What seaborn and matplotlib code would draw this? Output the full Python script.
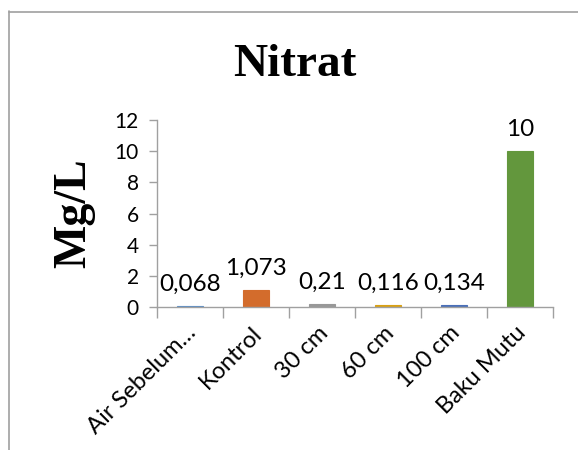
import matplotlib
matplotlib.use("Agg")
import matplotlib.pyplot as plt
import matplotlib.transforms as mtransforms
import seaborn as sns
import pandas as pd
from matplotlib.lines import Line2D

categories = ["Air Sebelum…", "Kontrol", "30 cm", "60 cm", "100 cm", "Baku Mutu"]
values = [0.068, 1.073, 0.21, 0.116, 0.134, 10]
value_labels = ["0,068", "1,073", "0,21", "0,116", "0,134", "10"]
colors = ["#5B8FC9", "#D36C2C", "#989898", "#D9A013", "#4A6FB8", "#63973D"]
yticks = [0, 2, 4, 6, 8, 10, 12]

sns.set_theme(style="white")
plt.rcParams['font.family'] = ['Lato', 'DejaVu Sans']

df = pd.DataFrame({"cat": categories, "val": values})

fig = plt.figure(figsize=(5.78, 4.50), dpi=100)
ax = fig.add_axes([157/578, 1-307/450, (553-157)/578, (307-120)/450])

sns.barplot(data=df, x="cat", y="val", hue="cat", palette=colors,
            order=categories, hue_order=categories, legend=False,
            width=0.395, ax=ax, saturation=1)
for cont, col in zip(ax.containers, colors):
    for p in cont.patches:
        p.set_edgecolor(col)
        p.set_linewidth(0.8)

for cont, lab in zip(ax.containers, value_labels):
    ax.bar_label(cont, labels=[lab], padding=8, fontsize=17.5, color="black")

ax.set_ylim(0, 12)
ax.set_xlim(-0.5, 5.5)
ax.set_yticks(yticks)
ax.set_yticklabels([str(v) for v in yticks], fontsize=15, color="black")
ax.set_xticks(range(len(categories)))
ax.set_xticklabels(categories, fontsize=17, rotation=45, ha="right",
                   rotation_mode="anchor", color="black")
ax.set_xticks([i - 0.5 for i in range(len(categories) + 1)], minor=True)
ax.tick_params(axis="x", which="major", length=0, pad=11)
ax.tick_params(axis="x", which="minor", length=8, width=1, color="#A0A0A0", direction="out", bottom=True)
ax.tick_params(axis="y", length=6, width=1, color="#A0A0A0", direction="out", left=True, pad=7)

shift = mtransforms.ScaledTranslation(-5/100, 0, fig.dpi_scale_trans)
for lbl in ax.get_xticklabels():
    lbl.set_transform(lbl.get_transform() + shift)

for s in ["top", "right"]:
    ax.spines[s].set_visible(False)
for s in ["left", "bottom"]:
    ax.spines[s].set_color("#A0A0A0")
    ax.spines[s].set_linewidth(1)

ax.set_xlabel("")
ax.set_ylabel("Mg/L", fontsize=33, fontweight="bold", family="Liberation Serif",
              color="black")
ax.yaxis.set_label_coords(-0.155, 0.5)

fig.text(295/578, 1-65/450, "Nitrat", fontsize=34, fontweight="bold",
         family="Liberation Serif", ha="center", va="center", color="black")

# outer chart border (partially cropped)
fig.add_artist(Line2D([8.5/578, 8.5/578], [0, 1-11/450], color="#A0A0A0", lw=1.2, transform=fig.transFigure))
fig.add_artist(Line2D([8.5/578, 1], [1-11.5/450, 1-11.5/450], color="#A0A0A0", lw=1.2, transform=fig.transFigure))

fig.savefig("out.png", dpi=100)
